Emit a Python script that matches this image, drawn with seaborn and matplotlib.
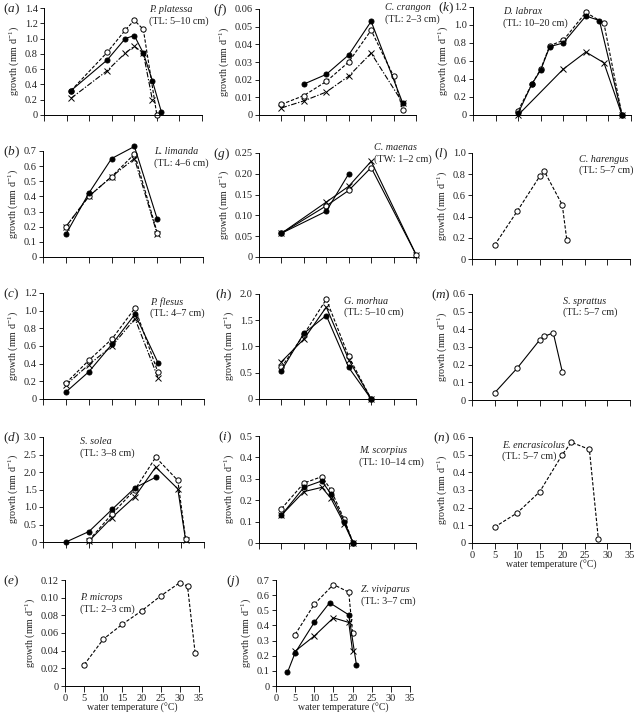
import numpy as np
import matplotlib
matplotlib.use("Agg")
import matplotlib.pyplot as plt
import seaborn as sns

# ---- data (temperature in degC, growth in mm/d) ----
# (a) P. platessa
a_t_fill = [6, 14, 18, 20, 22, 24, 26]
a_g_fill = [0.32, 0.72, 1.00, 1.04, 0.81, 0.45, 0.04]
a_t_open = [6, 14, 18, 20, 22, 25]
a_g_open = [0.32, 0.82, 1.11, 1.24, 1.12, 0.0]
a_t_cross = [6, 14, 18, 20, 22, 24]
a_g_cross = [0.22, 0.58, 0.81, 0.90, 0.81, 0.20]
# (b) L. limanda
b_t = [5, 10, 15, 20, 25]
b_g_fill = [0.15, 0.42, 0.65, 0.73, 0.25]
b_g_open = [0.20, 0.40, 0.53, 0.68, 0.16]
b_g_cross = [0.20, 0.40, 0.53, 0.65, 0.15]
# (c) P. flesus
c_t = [5, 10, 15, 20, 25]
c_g_fill = [0.08, 0.31, 0.62, 0.96, 0.41]
c_g_open = [0.18, 0.44, 0.68, 1.03, 0.30]
c_g_cross = [0.16, 0.39, 0.60, 0.91, 0.24]
# (d) S. solea
d_t_fill = [5, 10, 15, 20, 24.5]
d_g_fill = [0.0, 0.30, 0.93, 1.55, 1.85]
d_t_open = [10, 15, 20, 24.5, 29.3, 31]
d_g_open = [0.05, 0.80, 1.50, 2.42, 1.76, 0.10]
d_t_cross = [10, 15, 20, 24.5, 29.3, 31]
d_g_cross = [0.03, 0.70, 1.30, 2.14, 1.52, 0.05]
# (e) P. microps
e_t = [5, 10, 15, 20, 25, 30, 32, 34]
e_g = [0.024, 0.053, 0.070, 0.085, 0.102, 0.117, 0.113, 0.037]
# (f) C. crangon
f_t_fill = [10, 15, 20, 25, 32]
f_g_fill = [0.0175, 0.023, 0.034, 0.053, 0.007]
f_t_open = [5, 10, 15, 20, 25, 30, 32]
f_g_open = [0.006, 0.011, 0.019, 0.030, 0.048, 0.022, 0.003]
f_t_cross = [5, 10, 15, 20, 25, 32]
f_g_cross = [0.004, 0.008, 0.013, 0.022, 0.035, 0.007]
# (g) C. maenas
g_t_fill = [5, 15, 20]
g_g_fill = [0.057, 0.11, 0.20]
g_t = [5, 15, 20, 25, 35]
g_g_open = [0.057, 0.123, 0.16, 0.215, 0.006]
g_g_cross = [0.057, 0.132, 0.17, 0.23, 0.006]
# (h) G. morhua
h_t = [5, 10, 15, 20, 25]
h_g_fill = [0.54, 1.25, 1.59, 0.60, 0.0]
h_g_open = [0.60, 1.23, 1.90, 0.81, 0.0]
h_g_cross = [0.71, 1.14, 1.75, 0.75, 0.0]
# (i) M. scorpius
i_t = [5, 10, 14, 16, 19, 21]
i_g_fill = [0.13, 0.26, 0.29, 0.23, 0.10, 0.0]
i_g_open = [0.16, 0.28, 0.31, 0.25, 0.11, 0.0]
i_g_cross = [0.13, 0.24, 0.26, 0.21, 0.09, 0.0]
# (j) Z. viviparus
j_t_fill = [3, 5, 10, 14, 19, 21]
j_g_fill = [0.09, 0.22, 0.42, 0.55, 0.47, 0.14]
j_t_open = [5, 10, 15, 19, 20]
j_g_open = [0.34, 0.54, 0.67, 0.62, 0.35]
j_t_cross = [5, 10, 15, 19, 20]
j_g_cross = [0.23, 0.33, 0.45, 0.42, 0.23]
# (k) D. labrax
k_t_fill = [10, 13, 15, 17, 20, 25, 28, 33]
k_g_fill = [0.02, 0.34, 0.50, 0.76, 0.80, 1.10, 1.05, 0.0]
k_t_open = [10, 13, 15, 17, 20, 25, 29, 33]
k_g_open = [0.05, 0.34, 0.51, 0.77, 0.83, 1.14, 1.02, 0.0]
k_t_cross = [10, 20, 25, 29, 33]
k_g_cross = [0.0, 0.51, 0.70, 0.58, 0.0]
# (l) C. harengus
l_t = [5, 10, 15, 16, 20, 21]
l_g = [0.13, 0.45, 0.78, 0.83, 0.51, 0.18]
# (m) S. sprattus
m_t = [5, 10, 15, 16, 18, 20]
m_g = [0.04, 0.18, 0.34, 0.36, 0.38, 0.16]
# (n) E. encrasicolus
n_t = [5, 10, 15, 20, 22, 26, 28]
n_g = [0.09, 0.17, 0.29, 0.50, 0.57, 0.53, 0.02]

sns.set_style("ticks")
plt.rcParams["font.family"] = ["Liberation Serif", "DejaVu Serif"]
plt.rcParams["mathtext.fontset"] = "custom"
plt.rcParams["mathtext.rm"] = "Liberation Serif"
plt.rcParams["mathtext.it"] = "Liberation Serif:italic"

W, H = 635, 713
TXT = "#222222"
fig = plt.figure(figsize=(W / 100, H / 100), dpi=100)

SOLID = "-"
DASH = (0, (3, 1.6))
DASHDOT = (0, (5, 1.5, 1.2, 1.5))


def panel(box, ymax, ystep, dec, letter, lx, name, size, textpos, xlab=False):
    l, t, r, b = box
    ax = fig.add_axes([l / W, 1 - b / H, (r - l) / W, (b - t) / H])
    yt = np.round(np.arange(0, ymax + ystep / 2, ystep), 4)
    ax.set_yticks(yt)
    ax.set_yticklabels(["0" if v == 0 else f"{v:.{dec}f}" for v in yt])
    ax.set_xticks(np.arange(0, 36, 5))
    ax.set_xlim(0, 35)
    ax.set_ylim(0, ymax)
    sns.despine(ax=ax)
    for s in ["left", "bottom"]:
        ax.spines[s].set_linewidth(0.7)
        ax.spines[s].set_color("black")
    ax.tick_params(axis="y", length=3, width=0.6, labelsize=7.5, pad=1.5, colors="black", labelcolor=TXT)
    ax.tick_params(axis="x", length=4, width=0.6, labelsize=7.5, pad=1.5, colors="black", labelcolor=TXT)
    if xlab:
        ax.set_xlabel("water temperature (\u00b0C)", fontsize=7, color=TXT, labelpad=0.5)
    else:
        ax.set_xticklabels([])
    ax.set_ylabel("growth (mm d$^{-1}$)", fontsize=7.2, color=TXT, labelpad=2.5)
    # panel letter
    fig.text(lx / W, 1 - (t + 1) / H, rf"$\mathrm{{(}}\mathit{{{letter}}}\mathrm{{)}}$",
             fontsize=9.5, color=TXT, va="center", ha="left")
    px, py = textpos
    fig.text(px / W, 1 - py / H, name, style="italic", fontsize=7.3, color=TXT, va="center")
    fig.text(px / W, 1 - (py + 11) / H, size, fontsize=7.3, color=TXT, va="center")
    return ax


def line(ax, x, y, kind, ls):
    mk = {"fill": dict(marker="o", markerfacecolor="black", markersize=3.6),
          "open": dict(marker="o", markerfacecolor="white", markersize=3.8),
          "cross": dict(marker="x", markersize=4.2)}[kind]
    sns.lineplot(x=x, y=y, ax=ax, color="black", linestyle=ls, linewidth=0.8,
                 markeredgecolor="black", markeredgewidth=0.7, sort=False,
                 estimator=None, clip_on=False, **mk)


ax = panel((44, 8, 202, 115), 1.4, 0.2, 1, "a", 3, "P. platessa", "(TL: 5\u201310 cm)", (149, 10))
line(ax, a_t_cross, a_g_cross, "cross", DASHDOT)
line(ax, a_t_open, a_g_open, "open", DASH)
line(ax, a_t_fill, a_g_fill, "fill", SOLID)

ax = panel((43, 151, 203, 257), 0.7, 0.1, 1, "b", 3, "L. limanda", "(TL: 4\u20136 cm)", (154, 152))
line(ax, b_t, b_g_cross, "cross", DASHDOT)
line(ax, b_t, b_g_open, "open", DASH)
line(ax, b_t, b_g_fill, "fill", SOLID)

ax = panel((43, 293, 204, 399), 1.2, 0.2, 1, "c", 3, "P. flesus", "(TL: 4\u20137 cm)", (150, 302))
line(ax, c_t, c_g_cross, "cross", DASHDOT)
line(ax, c_t, c_g_open, "open", DASH)
line(ax, c_t, c_g_fill, "fill", SOLID)

ax = panel((43, 437, 204, 542), 3.0, 0.5, 1, "d", 3, "S. solea", "(TL: 3\u20138 cm)", (80, 442))
line(ax, d_t_cross, d_g_cross, "cross", SOLID)
line(ax, d_t_open, d_g_open, "open", DASH)
line(ax, d_t_fill, d_g_fill, "fill", SOLID)

ax = panel((65, 580, 199, 686), 0.12, 0.02, 2, "e", 3, "P. microps", "(TL: 2\u20133 cm)", (80, 598), xlab=True)
line(ax, e_t, e_g, "open", DASH)

ax = panel((259, 9, 416, 115), 0.06, 0.01, 2, "f", 213, "C. crangon", "(TL: 2\u20133 cm)", (385, 8))
line(ax, f_t_cross, f_g_cross, "cross", DASHDOT)
line(ax, f_t_open, f_g_open, "open", DASH)
line(ax, f_t_fill, f_g_fill, "fill", SOLID)

ax = panel((259, 153, 416, 257), 0.25, 0.05, 2, "g", 213, "C. maenas", "(TW: 1\u20132 cm)", (374, 148))
line(ax, g_t, g_g_cross, "cross", SOLID)
line(ax, g_t, g_g_open, "open", SOLID)
line(ax, g_t_fill, g_g_fill, "fill", SOLID)

ax = panel((259, 294, 416, 399), 2.0, 0.5, 1, "h", 215, "G. morhua", "(TL: 5\u201310 cm)", (344, 301))
line(ax, h_t, h_g_cross, "cross", SOLID)
line(ax, h_t, h_g_open, "open", DASH)
line(ax, h_t, h_g_fill, "fill", SOLID)

ax = panel((259, 436, 416, 543), 0.5, 0.1, 1, "i", 218, "M. scorpius", "(TL: 10\u201314 cm)", (359, 451))
line(ax, i_t, i_g_cross, "cross", SOLID)
line(ax, i_t, i_g_open, "open", DASH)
line(ax, i_t, i_g_fill, "fill", SOLID)

ax = panel((276, 580, 410, 686), 0.7, 0.1, 1, "j", 226, "Z. viviparus", "(TL: 3\u20137 cm)", (361, 590), xlab=True)
line(ax, j_t_cross, j_g_cross, "cross", SOLID)
line(ax, j_t_open, j_g_open, "open", DASH)
line(ax, j_t_fill, j_g_fill, "fill", SOLID)

ax = panel((473, 7, 631, 115), 1.2, 0.2, 1, "k", 438, "D. labrax", "(TL: 10\u201320 cm)", (503, 12))
line(ax, k_t_cross, k_g_cross, "cross", SOLID)
line(ax, k_t_open, k_g_open, "open", DASH)
line(ax, k_t_fill, k_g_fill, "fill", SOLID)

ax = panel((472, 153, 630, 259), 1.0, 0.2, 1, "l", 434, "C. harengus", "(TL: 5\u20137 cm)", (579, 159))
line(ax, l_t, l_g, "open", DASH)

ax = panel((472, 294, 630, 400), 0.6, 0.1, 1, "m", 431, "S. sprattus", "(TL: 5\u20137 cm)", (563, 301))
line(ax, m_t, m_g, "open", SOLID)

ax = panel((472, 437, 630, 543), 0.6, 0.1, 1, "n", 433, "E. encrasicolus", "(TL: 5\u20137 cm)", (502, 445), xlab=True)
line(ax, n_t, n_g, "open", DASH)

fig.savefig("out.png", dpi=100)
